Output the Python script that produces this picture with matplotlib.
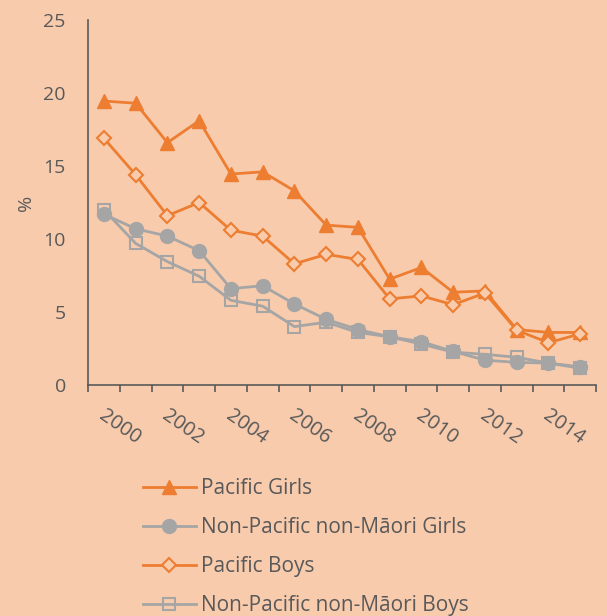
import matplotlib.pyplot as plt
import numpy as np

# Données
annees = list(range(2000, 2016))
pacific_girls = [19.45, 19.3, 16.6, 18.1, 14.45, 14.6, 13.3, 10.95, 10.8, 7.25, 8.05, 6.35, 6.45, 3.8, 3.6, 3.6]
nonpac_girls = [11.7, 10.7, 10.2, 9.2, 6.6, 6.8, 5.55, 4.5, 3.8, 3.3, 2.97, 2.3, 1.7, 1.55, 1.5, 1.25]
pacific_boys = [16.9, 14.4, 11.6, 12.5, 10.6, 10.2, 8.3, 8.95, 8.6, 5.9, 6.1, 5.5, 6.3, 3.75, 2.9, 3.5]
nonpac_boys = [12.0, 9.7, 8.45, 7.45, 5.8, 5.4, 4.0, 4.3, 3.6, 3.3, 2.8, 2.25, 2.1, 1.9, 1.5, 1.15]
labels = ['Pacific Girls', 'Non-Pacific non-M\u0101ori Girls', 'Pacific Boys', 'Non-Pacific non-M\u0101ori Boys']

fond = '#F8CBAD'
orange = '#ED7D31'
gris = '#A5A5A5'
texte = '#595959'

plt.rcParams['font.family'] = ['Open Sans', 'DejaVu Sans']

fig = plt.figure(figsize=(6.07, 6.16), dpi=100, facecolor=fond)
ax = fig.add_axes([0.145, 0.375, 0.837, 0.5925])
ax.set_facecolor(fond)

x = np.arange(len(annees))
l1, = ax.plot(x, pacific_girls, color=orange, lw=2, marker='^', ms=10, mec=orange, mfc=orange)
l2, = ax.plot(x, nonpac_girls, color=gris, lw=2, marker='o', ms=10, mec=gris, mfc=gris)
l3, = ax.plot(x, pacific_boys, color=orange, lw=2, marker='D', ms=7, mec=orange, mfc=fond, mew=1.5)
l4, = ax.plot(x, nonpac_boys, color=gris, lw=2, marker='s', ms=9, mec=gris, mfc='none', mew=1.5)

ax.set_xlim(-0.5, len(annees) - 0.5)
ax.set_ylim(0, 25)
ax.set_yticks([0, 5, 10, 15, 20, 25])
ax.tick_params(axis='y', length=0, labelsize=14, colors=texte, pad=16)
ax.set_ylabel('%', color=texte, fontsize=14, labelpad=6)

# graduations entre catégories, étiquettes une année sur deux
ax.set_xticks(np.arange(-0.5, len(annees)), minor=False)
ax.set_xticklabels([])
ax.tick_params(axis='x', length=5, width=1.2, color=texte, direction='out')
for i, a in enumerate(annees):
    if i % 2 == 0:
        ax.text(i - 0.1, -1.95, str(a), rotation=-35, rotation_mode='anchor',
                ha='left', va='center', fontsize=14.5, color=texte)

for s in ['top', 'right']:
    ax.spines[s].set_visible(False)
ax.spines['left'].set_color(texte)
ax.spines['bottom'].set_color(texte)
ax.spines['left'].set_linewidth(1.2)
ax.spines['bottom'].set_linewidth(1.2)

leg = fig.legend([l1, l2, l3, l4], labels, loc='upper left', bbox_to_anchor=(0.235, 0.224),
                 frameon=False, fontsize=15, labelcolor=texte, handlelength=2.55,
                 labelspacing=0.87, handletextpad=0.25, borderpad=0, borderaxespad=0)

plt.savefig('out.png', dpi=100, facecolor=fond)
